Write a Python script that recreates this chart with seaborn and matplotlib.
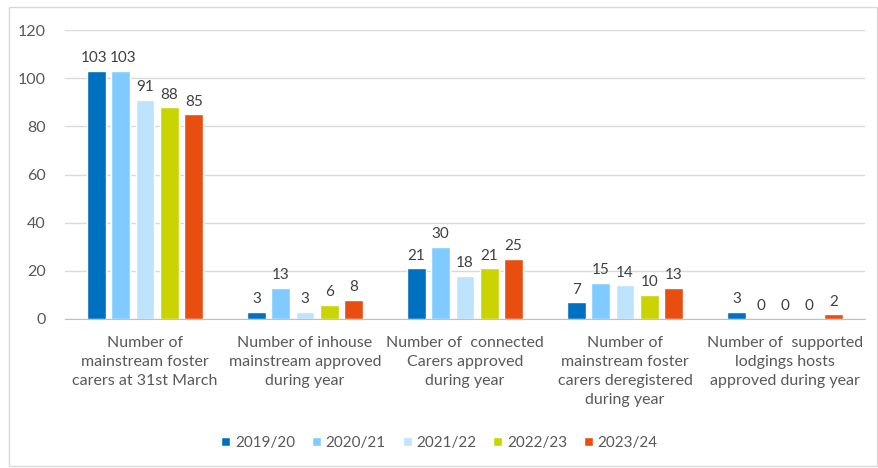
import matplotlib
matplotlib.use('Agg')
import matplotlib.pyplot as plt
import seaborn as sns
import pandas as pd
from matplotlib.patches import Rectangle

categorias = ['Number of\nmainstream foster\ncarers at 31st March',
              'Number of inhouse\nmainstream approved\nduring year',
              'Number of  connected\nCarers approved\nduring year',
              'Number of\nmainstream foster\ncarers deregistered\nduring year',
              'Number of  supported\nlodgings hosts\napproved during year']
anos = ['2019/20', '2020/21', '2021/22', '2022/23', '2023/24']
v_1920 = [103, 3, 21, 7, 3]
v_2021 = [103, 13, 30, 15, 0]
v_2122 = [91, 3, 18, 14, 0]
v_2223 = [88, 6, 21, 10, 0]
v_2324 = [85, 8, 25, 13, 2]
cores = ['#0070C0', '#7FCBFF', '#BDE3FF', '#C9D400', '#E84E10']

valores = [v_1920, v_2021, v_2122, v_2223, v_2324]
linhas = []
for ano, vals in zip(anos, valores):
    for cat, v in zip(categorias, vals):
        linhas.append({'categoria': cat, 'ano': ano, 'total': v})
dados = pd.DataFrame(linhas)

sns.set_style('white')
plt.rcParams['font.family'] = ['Lato', 'DejaVu Sans']
texto = '#595959'

fig = plt.figure(figsize=(8.79, 4.68), dpi=100)
ax = fig.add_axes([65/879, 1-319/468, 800/879, 289/468])

sns.barplot(data=dados, x='categoria', y='total', hue='ano',
            order=categorias, hue_order=anos, palette=cores, saturation=1,
            width=0.76, gap=0.22, ax=ax, legend=True)

rotulos = []
for c in ax.containers:
    rotulos.append(ax.bar_label(c, fmt='%d', padding=4, fontsize=11, color='#404040'))

# os dois 103 ficam colados, afasta um pouco
rotulos[0][0].xyann = (-1.5, 4)
rotulos[1][0].xyann = (1.5, 4)

ax.set_ylim(0, 120)
ax.set_yticks(range(0, 121, 20))
ax.yaxis.grid(True, color='#D9D9D9', linewidth=1)
ax.set_axisbelow(True)
for s in ['top', 'right', 'left']:
    ax.spines[s].set_visible(False)
ax.spines['bottom'].set_color('#BFBFBF')
ax.tick_params(axis='both', length=0, labelsize=11.5, labelcolor=texto)
ax.tick_params(axis='x', pad=12)
ax.tick_params(axis='y', pad=14)
for lbl in ax.get_xticklabels():
    lbl.set_linespacing(1.45)
ax.set_xlabel('')
ax.set_ylabel('')

handles, labels = ax.get_legend_handles_labels()
ax.get_legend().remove()
leg = fig.legend(handles, labels, loc='center', bbox_to_anchor=(0.5, 1-443/468),
                 ncol=5, frameon=False, fontsize=11, handlelength=0.6,
                 handleheight=0.6, columnspacing=1.1, handletextpad=0.3)
for t in leg.get_texts():
    t.set_color(texto)

fig.patches.append(Rectangle((9/879, 1-466/468), 868/879, 459/468,
                             transform=fig.transFigure, fill=False,
                             edgecolor='#D9D9D9', linewidth=1))

plt.savefig('out.png', dpi=100)
